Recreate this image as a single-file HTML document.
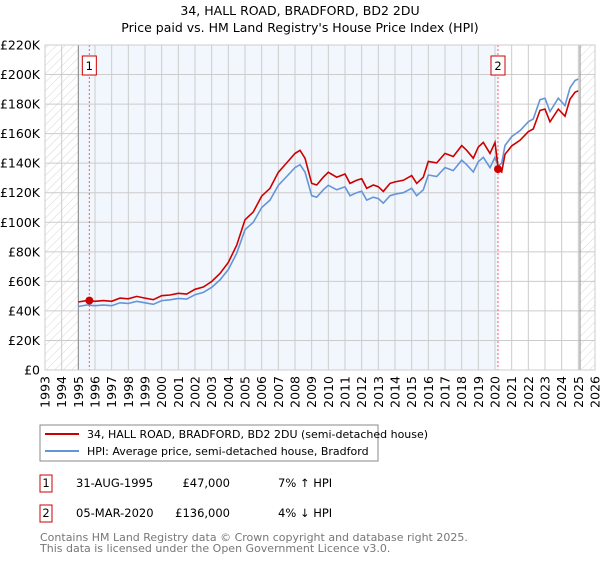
<!DOCTYPE html>
<html><head><meta charset="utf-8"><style>
body{margin:0;background:#fff;font-family:"Liberation Sans","DejaVu Sans",sans-serif}
svg text{font-family:"DejaVu Sans","Liberation Sans",sans-serif}
</style></head><body>
<svg id="c" width="600" height="560" xmlns="http://www.w3.org/2000/svg">
<defs><pattern id="h" width="6" height="6" patternUnits="userSpaceOnUse" patternTransform="rotate(45)"><line x1="0" y1="0" x2="0" y2="6" stroke="#ccc" stroke-width="0.8"/></pattern></defs>
<text x="300" y="15" text-anchor="middle" font-size="12.5">34, HALL ROAD, BRADFORD, BD2 2DU</text>
<text x="300" y="32" text-anchor="middle" font-size="12.5">Price paid vs. HM Land Registry's House Price Index (HPI)</text>
<g id="plot"></g>
<rect x="40" y="425" width="338" height="36" fill="#fff" stroke="#888"/>
<line x1="45" y1="434" x2="79" y2="434" stroke="#cc0000" stroke-width="2"/>
<text x="87" y="438" font-size="11">34, HALL ROAD, BRADFORD, BD2 2DU (semi-detached house)</text>
<line x1="45" y1="451" x2="79" y2="451" stroke="#6495d8" stroke-width="2"/>
<text x="87" y="455" font-size="11">HPI: Average price, semi-detached house, Bradford</text>
<g font-size="11.5">
<rect x="40" y="475" width="12" height="17" fill="#fff" stroke="#cc0000"/><text x="46" y="487" text-anchor="middle">1</text>
<text x="76" y="487">31-AUG-1995</text><text x="230" y="487" text-anchor="end">£47,000</text><text x="278" y="487">7% ↑ HPI</text>
<rect x="40" y="505" width="12" height="17" fill="#fff" stroke="#cc0000"/><text x="46" y="517" text-anchor="middle">2</text>
<text x="76" y="517">05-MAR-2020</text><text x="230" y="517" text-anchor="end">£136,000</text><text x="278" y="517">4% ↓ HPI</text>
</g>
<text x="40" y="541" font-size="11" fill="#777">Contains HM Land Registry data © Crown copyright and database right 2025.</text>
<text x="40" y="552" font-size="11" fill="#777">This data is licensed under the Open Government Licence v3.0.</text>
</svg>
<script>
const years=[1995.0,1995.5,1996.0,1996.5,1997.0,1997.5,1998.0,1998.5,1999.0,1999.5,2000.0,2000.5,2001.0,2001.5,2002.0,2002.5,2003.0,2003.5,2004.0,2004.5,2005.0,2005.5,2006.0,2006.5,2007.0,2007.5,2008.0,2008.3,2008.6,2009.0,2009.3,2009.7,2010.0,2010.5,2011.0,2011.3,2011.7,2012.0,2012.3,2012.7,2013.0,2013.3,2013.7,2014.0,2014.5,2015.0,2015.3,2015.7,2016.0,2016.5,2017.0,2017.5,2018.0,2018.3,2018.7,2019.0,2019.3,2019.7,2020.0,2020.2,2020.4,2020.6,2021.0,2021.5,2022.0,2022.3,2022.7,2023.0,2023.3,2023.8,2024.2,2024.5,2024.8,2025.0];
const hpi=[43,44,43.5,44,43.5,45.5,45,46.5,45.5,44.5,47,47.5,48.5,48,51,52.5,56,61,68,79,95,100,110,115,125,131,137,139,134,118,117,122,125,122,124,118,120,121,115,117,116,113,118,119,120,123,118,122,132,131,137,135,142,139,134,141,144,137,144,138,140,152,158,162,168,170,183,184,175,184,179,191,196,197];
const price=[46,47,46.5,47,46.5,48.7,48.2,49.8,48.7,47.6,50.3,50.8,51.9,51.4,54.6,56.2,59.9,65.3,72.8,84.5,101.7,107,117.7,123,133.8,140.2,146.6,148.7,143.4,126.3,125.2,130.5,133.8,130.5,132.7,126.3,128.4,129.5,123,125.2,124.1,120.9,126.3,127.3,128.4,131.6,126.3,130.5,141.2,140.2,146.6,144.5,151.9,148.7,143.4,150.9,154.1,146.6,154.1,136,134,146,151.7,155.5,161.3,163.2,175.7,176.6,168,176.6,171.8,183.4,188,189];
const yTicks=[0,20,40,60,80,100,120,140,160,180,200,220];
const xTicks=[1993,1994,1995,1996,1997,1998,1999,2000,2001,2002,2003,2004,2005,2006,2007,2008,2009,2010,2011,2012,2013,2014,2015,2016,2017,2018,2019,2020,2021,2022,2023,2024,2025,2026];
const sales=[{t:1995.66,v:47,n:'1'},{t:2020.18,v:136,n:'2'}];
const X0=45,X1=595,Y0=370,Y1=45;
const xs=t=>X0+(t-1993)/(2026-1993)*(X1-X0);
const ys=v=>Y0-v/220*(Y0-Y1);
const NS='http://www.w3.org/2000/svg',g=document.getElementById('plot');
function mk(tag,at,par){const e=document.createElementNS(NS,tag);for(const k in at)e.setAttribute(k,at[k]);(par||g).appendChild(e);return e;}
let e;
e=mk('rect',{x:xs(1995),y:Y1,width:xs(sales[1].t)-xs(1995),height:Y0-Y1,fill:'#f2f6fd'});


e=mk('rect',{x:X0,y:Y1,width:xs(1995)-X0,height:Y0-Y1,fill:'url(#h)'});


e=mk('rect',{x:xs(2025.1),y:Y1,width:X1-xs(2025.1),height:Y0-Y1,fill:'url(#h)'});


xTicks.forEach(t=>{
 e=mk('line',{x1:xs(t),x2:xs(t),y1:Y1,y2:Y0,stroke:'#ccc','stroke-width':1});
 
 
 e=mk('text',{x:0,y:0,'font-size':12.5,'text-anchor':'end',transform:`translate(${xs(t)+4.5},${Y0+6}) rotate(-90)`});
 e.textContent=t;
 
 
});
yTicks.forEach(v=>{
 e=mk('line',{x1:X0,x2:X1,y1:ys(v),y2:ys(v),stroke:'#ccc','stroke-width':1});
 
 
 e=mk('text',{x:40,y:ys(v)+4.5,'font-size':12.5,'text-anchor':'end'});
 e.textContent=v===0?'£0':'£'+v+'K';
 
 
});
e=mk('line',{x1:xs(1995),x2:xs(1995),y1:Y1,y2:Y0,stroke:'#888'});


e=mk('line',{x1:xs(2025.1),x2:xs(2025.1),y1:Y1,y2:Y0,stroke:'#888'});


sales.forEach(s=>{
 e=mk('line',{x1:xs(s.t),x2:xs(s.t),y1:Y1,y2:Y0,stroke:'#f06060','stroke-dasharray':'2,2'});
 
 
});
const pts=a=>a.map((v,i)=>xs(years[i]).toFixed(1)+','+ys(v).toFixed(1)).join(' ');
e=mk('polyline',{points:pts(hpi),fill:'none',stroke:'#6495d8','stroke-width':1.6});


e=mk('polyline',{points:pts(price),fill:'none',stroke:'#cc0000','stroke-width':1.6});


sales.forEach(s=>{
 e=mk('circle',{cx:xs(s.t),cy:ys(s.v),r:4,fill:'#cc0000'});
 
 
 e=mk('rect',{x:xs(s.t)-7,y:56,width:14,height:19,fill:'#fff',stroke:'#cc0000'});
 
 
 e=mk('text',{x:xs(s.t),y:70,'font-size':11.5,'text-anchor':'middle'});
 e.textContent=s.n;
 
 
});
mk('rect',{x:X0,y:Y1,width:X1-X0,height:Y0-Y1,fill:'none',stroke:'#ccc'});
</script>
</body></html>
